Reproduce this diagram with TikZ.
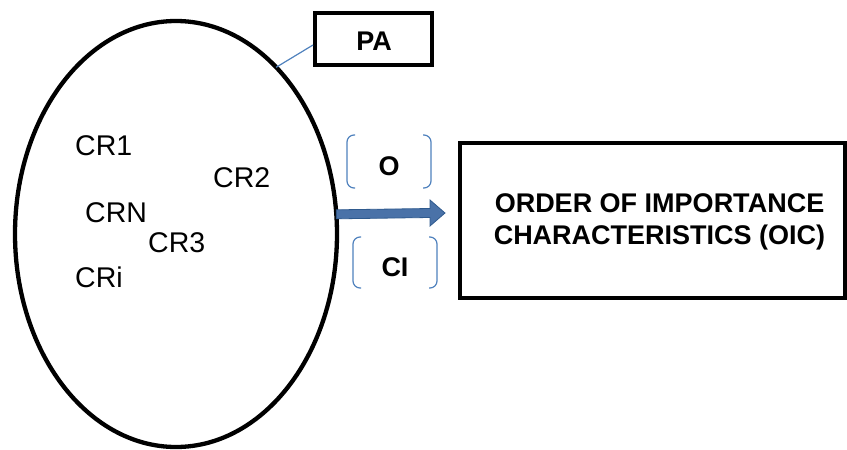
\documentclass[tikz,border=0pt]{standalone}
\usepackage{fontspec}
\setmainfont{Liberation Sans}
\usetikzlibrary{shapes.geometric,calc}
\definecolor{linkblue}{HTML}{4F81BD}
\definecolor{arrowfill}{HTML}{4A72A8}
\definecolor{arrowedge}{HTML}{2F5A8E}
\tikzset{
  frame/.style={draw=black, line width=4pt, inner sep=0pt},
  crlabel/.style={anchor=base west, inner sep=0pt, font=\fontsize{28.5}{32}\selectfont},
  boldlabel/.style={inner sep=0pt, font=\bfseries\fontsize{27}{32}\selectfont},
  bracket/.style={draw=linkblue, line width=1.2pt, rounded corners=7pt},
}
\begin{document}
\begin{tikzpicture}[x=1pt, y=-1pt]
  \useasboundingbox (0,0) rectangle (847,450);

  % population ellipse
  \node[ellipse, draw=black, line width=4.3pt, inner sep=0pt, outer sep=0pt,
        minimum width=322pt, minimum height=426pt] (E) at (176,234) {};

  % PA box and its connector
  \node[frame, minimum width=117pt, minimum height=52pt] (PA) at (373.5,39) {};
  \node[boldlabel] (PAtext) at (374,41) {PA};
  \draw[linkblue, line width=1.2pt] (E.59) -- ([yshift=-6pt]PA.west);

  % characteristics inside the ellipse
  \node[crlabel] (cr1) at (75,155) {CR1};
  \node[crlabel] (cr2) at (213,187) {CR2};
  \node[crlabel] (crn) at (85,222) {CRN};
  \node[crlabel] (cr3) at (148,252) {CR3};
  \node[crlabel] (cri) at (75,287) {CRi};

  % result box
  \node[frame, minimum width=385pt, minimum height=155pt] (OIC) at (652.5,220.5) {};
  \node[boldlabel, align=center] (OICtext) at (659.5,222)
    {ORDER OF IMPORTANCE\\CHARACTERISTICS (OIC)};

  % bracketed O and CI labels
  \node[boldlabel] (Olab) at (389,166) {O};
  \draw[bracket] (355,135) -- (347,135) -- (347,188) -- (355,188);
  \draw[bracket] (423,135) -- (431,135) -- (431,188) -- (423,188);
  \node[boldlabel] (CIlab) at (395,267) {CI};
  \draw[bracket] (361,237) -- (353,237) -- (353,288) -- (361,288);
  \draw[bracket] (429,237) -- (437,237) -- (437,288) -- (429,288);

  % block arrow from the ellipse towards the result box
  \coordinate (astart) at (E.7.5);
  \coordinate (aend) at (445,213);
  \filldraw[fill=arrowfill, draw=arrowedge, line width=0.8pt, line join=miter]
    ($(astart)+(0,-4.5)$) -- ($(aend)+(-15,-4.5)$) -- ($(aend)+(-15,-13)$)
    -- (aend) -- ($(aend)+(-15,13)$) -- ($(aend)+(-15,4.5)$)
    -- ($(astart)+(0,4.5)$) -- cycle;
\end{tikzpicture}
\end{document}
